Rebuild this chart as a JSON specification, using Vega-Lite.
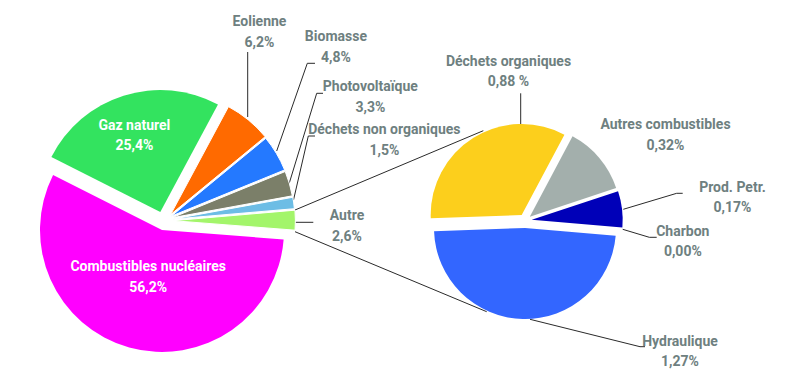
{
  "$schema": "https://vega.github.io/schema/vega-lite/v6.json",
  "width": 800,
  "height": 386,
  "autosize": "none",
  "padding": 0,
  "background": "#ffffff",
  "config": {
    "view": {"stroke": null},
    "rule": {"strokeWidth": 1},
    "text": {"font": "Roboto", "fontWeight": "bold", "fontSize": 14, "lineHeight": 20.5, "color": "#6e8080", "align": "center", "baseline": "middle", "dy": -10.25}
  },
  "datasets": {
    "mix": [
      {"groupe": "Mix", "source": "Eolienne", "part": 6.2, "pct": "6,2%", "ordre": 1},
      {"groupe": "Mix", "source": "Biomasse", "part": 4.8, "pct": "4,8%", "ordre": 2},
      {"groupe": "Mix", "source": "Photovoltaïque", "part": 3.3, "pct": "3,3%", "ordre": 3},
      {"groupe": "Mix", "source": "Déchets non organiques", "part": 1.5, "pct": "1,5%", "ordre": 4},
      {"groupe": "Mix", "source": "Autre", "part": 2.6, "pct": "2,6%", "ordre": 5},
      {"groupe": "Mix", "source": "Combustibles nucléaires", "part": 56.2, "pct": "56,2%", "ordre": 6},
      {"groupe": "Mix", "source": "Gaz naturel", "part": 25.4, "pct": "25,4%", "ordre": 7}
    ],
    "autre": [
      {"groupe": "Autre", "source": "Déchets organiques", "part": 0.88, "pct": "0,88 %", "ordre": 1},
      {"groupe": "Autre", "source": "Autres combustibles", "part": 0.32, "pct": "0,32%", "ordre": 2},
      {"groupe": "Autre", "source": "Prod. Petr.", "part": 0.17, "pct": "0,17%", "ordre": 3},
      {"groupe": "Autre", "source": "Charbon", "part": 0.0, "pct": "0,00%", "ordre": 4},
      {"groupe": "Autre", "source": "Hydraulique", "part": 1.27, "pct": "1,27%", "ordre": 5}
    ]
  },
  "encoding": {
    "x": {"field": "groupe", "type": "nominal", "scale": {"type": "point", "domain": ["Mix", "Autre"], "range": [163, 525.2], "padding": 0}, "axis": null},
    "y": {"field": "groupe", "type": "nominal", "scale": {"type": "point", "domain": ["Mix", "Autre"], "range": [217, 220.6], "padding": 0}, "axis": null},
    "color": {
      "field": "source", "type": "nominal", "legend": null,
      "scale": {
        "domain": ["Eolienne", "Biomasse", "Photovoltaïque", "Déchets non organiques", "Autre", "Combustibles nucléaires", "Gaz naturel", "Déchets organiques", "Autres combustibles", "Prod. Petr.", "Charbon", "Hydraulique"],
        "range": ["#ff6a00", "#2479ff", "#7b7f69", "#6dbde5", "#a3f56a", "#ff00ff", "#33e35f", "#fccf1c", "#a3afac", "#0000b8", "#333333", "#3366ff"]
      }
    }
  },
  "layer": [
    {
      "data": {"name": "mix"},
      "transform": [{"filter": "datum.source === 'Autre'"}],
      "encoding": {"x2": {"datum": "Mix"}, "y2": {"datum": "Mix"}, "color": {"value": "#2a2a2a"}},
      "layer": [
        {"mark": {"type": "rule", "xOffset": 84.7, "yOffset": -100, "x2Offset": 84.7, "y2Offset": -165}},
        {"mark": {"type": "rule", "xOffset": 113.7, "yOffset": -66, "x2Offset": 144.3, "y2Offset": -153.7}},
        {"mark": {"type": "rule", "xOffset": 144.3, "yOffset": -153.7, "x2Offset": 152, "y2Offset": -153.7}},
        {"mark": {"type": "rule", "xOffset": 126.3, "yOffset": -34, "x2Offset": 153.7, "y2Offset": -123.7}},
        {"mark": {"type": "rule", "xOffset": 153.7, "yOffset": -123.7, "x2Offset": 160, "y2Offset": -123.7}},
        {"mark": {"type": "rule", "xOffset": 130.5, "yOffset": -17, "x2Offset": 145.3, "y2Offset": -81}},
        {"mark": {"type": "rule", "xOffset": 145.3, "yOffset": -81, "x2Offset": 152, "y2Offset": -81}},
        {"mark": {"type": "rule", "xOffset": 132, "yOffset": 5.3, "x2Offset": 150.3, "y2Offset": 5.3}}
      ]
    },
    {
      "data": {"name": "mix"},
      "transform": [{"filter": "datum.source === 'Autre'"}],
      "encoding": {"x2": {"datum": "Autre"}, "y2": {"datum": "Autre"}, "color": {"value": "#2a2a2a"}},
      "layer": [
        {"mark": {"type": "rule", "xOffset": 132, "yOffset": -7, "x2Offset": -41.9, "y2Offset": -89.9}},
        {"mark": {"type": "rule", "xOffset": 132, "yOffset": 14.7, "x2Offset": -38.5, "y2Offset": 91.1}}
      ]
    },
    {
      "data": {"name": "autre"},
      "transform": [{"filter": "datum.source === 'Hydraulique'"}],
      "encoding": {"x2": {"datum": "Autre"}, "y2": {"datum": "Autre"}, "color": {"value": "#2a2a2a"}},
      "layer": [
        {"mark": {"type": "rule", "xOffset": -4.5, "yOffset": -127.3, "x2Offset": -4.5, "y2Offset": -96.6}},
        {"mark": {"type": "rule", "xOffset": 98.1, "yOffset": -11.3, "x2Offset": 151.5, "y2Offset": -27.3}},
        {"mark": {"type": "rule", "xOffset": 151.5, "yOffset": -27.3, "x2Offset": 157.5, "y2Offset": -27.3}},
        {"mark": {"type": "rule", "xOffset": 97.5, "yOffset": 8.7, "x2Offset": 124.1, "y2Offset": 16.7}},
        {"mark": {"type": "rule", "xOffset": 124.1, "yOffset": 16.7, "x2Offset": 131.5, "y2Offset": 16.7}},
        {"mark": {"type": "rule", "xOffset": 4.8, "yOffset": 98.7, "x2Offset": 114.8, "y2Offset": 126.1}},
        {"mark": {"type": "rule", "xOffset": 114.8, "yOffset": 126.1, "x2Offset": 119.8, "y2Offset": 126.1}}
      ]
    },
    {
      "data": {"name": "mix"},
      "transform": [{"calculate": "[datum.source, datum.pct]", "as": "etiquette"}],
      "encoding": {
        "theta": {"field": "part", "type": "quantitative", "stack": true, "scale": {"range": [0.49218, 6.77537]}},
        "order": {"field": "ordre", "type": "quantitative"}
      },
      "layer": [
        {
          "mark": {"type": "arc", "outerRadius": 122.5, "xOffset": 7.6, "yOffset": -2.4, "stroke": "#ffffff", "strokeWidth": 1},
          "encoding": {"opacity": {"condition": {"test": "datum.source === 'Eolienne'", "value": 1}, "value": 0}}
        },
        {
          "mark": {"type": "arc", "outerRadius": 122.5, "xOffset": 8.2, "yOffset": -0.8, "stroke": "#ffffff", "strokeWidth": 1},
          "encoding": {"opacity": {"condition": {"test": "datum.source === 'Biomasse'", "value": 1}, "value": 0}}
        },
        {
          "mark": {"type": "arc", "outerRadius": 122.5, "xOffset": 8.8, "yOffset": 0.8, "stroke": "#ffffff", "strokeWidth": 1},
          "encoding": {"opacity": {"condition": {"test": "datum.source === 'Photovoltaïque'", "value": 1}, "value": 0}}
        },
        {
          "mark": {"type": "arc", "outerRadius": 122.5, "xOffset": 9.3, "yOffset": 2.2, "stroke": "#ffffff", "strokeWidth": 1},
          "encoding": {"opacity": {"condition": {"test": "datum.source === 'Déchets non organiques'", "value": 1}, "value": 0}}
        },
        {
          "mark": {"type": "arc", "outerRadius": 122.5, "xOffset": 9.9, "yOffset": 3.7, "stroke": "#ffffff", "strokeWidth": 1},
          "encoding": {"opacity": {"condition": {"test": "datum.source === 'Autre'", "value": 1}, "value": 0}}
        },
        {
          "mark": {"type": "arc", "outerRadius": 122, "xOffset": -1, "yOffset": 13},
          "encoding": {"opacity": {"condition": {"test": "datum.source === 'Combustibles nucléaires'", "value": 1}, "value": 0}}
        },
        {
          "mark": {"type": "arc", "outerRadius": 122, "xOffset": -2.7, "yOffset": -5},
          "encoding": {"opacity": {"condition": {"test": "datum.source === 'Gaz naturel'", "value": 1}, "value": 0}}
        },
        {
          "mark": {"type": "text", "radius": 208.4, "thetaOffset": -0.2056},
          "encoding": {"text": {"condition": {"test": "datum.source === 'Eolienne'", "field": "etiquette", "type": "nominal"}, "value": ""}, "color": {"value": "#6e8080"}}
        },
        {
          "mark": {"type": "text", "radius": 242.1, "thetaOffset": -0.2372},
          "encoding": {"text": {"condition": {"test": "datum.source === 'Biomasse'", "field": "etiquette", "type": "nominal"}, "value": ""}, "color": {"value": "#6e8080"}}
        },
        {
          "mark": {"type": "text", "radius": 239.3, "thetaOffset": -0.2391},
          "encoding": {"text": {"condition": {"test": "datum.source === 'Photovoltaïque'", "field": "etiquette", "type": "nominal"}, "value": ""}, "color": {"value": "#6e8080"}}
        },
        {
          "mark": {"type": "text", "radius": 234.2, "thetaOffset": -0.1998},
          "encoding": {"text": {"condition": {"test": "datum.source === 'Déchets non organiques'", "field": "etiquette", "type": "nominal"}, "value": ""}, "color": {"value": "#6e8080"}}
        },
        {
          "mark": {"type": "text", "radius": 184.2, "thetaOffset": 0.0547},
          "encoding": {"text": {"condition": {"test": "datum.source === 'Autre'", "field": "etiquette", "type": "nominal"}, "value": ""}, "color": {"value": "#6e8080"}}
        },
        {
          "mark": {"type": "text", "radius": 85.9, "thetaOffset": -0.034},
          "encoding": {"text": {"condition": {"test": "datum.source === 'Gaz naturel'", "field": "etiquette", "type": "nominal"}, "value": ""}, "color": {"value": "#ffffff"}}
        },
        {
          "mark": {"type": "text", "radius": 62.3, "thetaOffset": -0.0323},
          "encoding": {"text": {"condition": {"test": "datum.source === 'Combustibles nucléaires'", "field": "etiquette", "type": "nominal"}, "value": ""}, "color": {"value": "#ffffff"}}
        }
      ]
    },
    {
      "data": {"name": "autre"},
      "transform": [{"calculate": "[datum.source, datum.pct]", "as": "etiquette"}],
      "encoding": {
        "theta": {"field": "part", "type": "quantitative", "stack": true, "scale": {"range": [4.6775, 10.9607]}},
        "order": {"field": "ordre", "type": "quantitative"}
      },
      "layer": [
        {
          "mark": {"type": "arc", "outerRadius": 91, "xOffset": -3.5, "yOffset": -5.6},
          "encoding": {"opacity": {"condition": {"test": "datum.source === 'Déchets organiques'", "value": 1}, "value": 0}}
        },
        {
          "mark": {"type": "arc", "outerRadius": 91, "xOffset": 4.6, "yOffset": -3.9},
          "encoding": {"opacity": {"condition": {"test": "datum.source === 'Autres combustibles'", "value": 1}, "value": 0}}
        },
        {
          "mark": {"type": "arc", "outerRadius": 91, "xOffset": 6.5, "yOffset": -0.8},
          "encoding": {"opacity": {"condition": {"test": "datum.source === 'Prod. Petr.'", "value": 1}, "value": 0}}
        },
        {
          "mark": {"type": "arc", "outerRadius": 91, "xOffset": -0.2, "yOffset": 7.4},
          "encoding": {"opacity": {"condition": {"test": "datum.source === 'Hydraulique'", "value": 1}, "value": 0}}
        },
        {
          "mark": {"type": "text", "radius": 149.3, "thetaOffset": 0.4465},
          "encoding": {"text": {"condition": {"test": "datum.source === 'Déchets organiques'", "field": "etiquette", "type": "nominal"}, "value": ""}, "color": {"value": "#6e8080"}}
        },
        {
          "mark": {"type": "text", "radius": 164.2, "thetaOffset": 0.155},
          "encoding": {"text": {"condition": {"test": "datum.source === 'Autres combustibles'", "field": "etiquette", "type": "nominal"}, "value": ""}, "color": {"value": "#6e8080"}}
        },
        {
          "mark": {"type": "text", "radius": 208.5, "thetaOffset": 0.0086},
          "encoding": {"text": {"condition": {"test": "datum.source === 'Prod. Petr.'", "field": "etiquette", "type": "nominal"}, "value": ""}, "color": {"value": "#6e8080"}}
        },
        {
          "mark": {"type": "text", "radius": 159.1, "thetaOffset": 0.052},
          "encoding": {"text": {"condition": {"test": "datum.source === 'Charbon'", "field": "etiquette", "type": "nominal"}, "value": ""}, "color": {"value": "#6e8080"}}
        },
        {
          "mark": {"type": "text", "radius": 203.2, "thetaOffset": -0.8908},
          "encoding": {"text": {"condition": {"test": "datum.source === 'Hydraulique'", "field": "etiquette", "type": "nominal"}, "value": ""}, "color": {"value": "#6e8080"}}
        }
      ]
    }
  ],
  "resolve": {"scale": {"theta": "independent"}}
}
